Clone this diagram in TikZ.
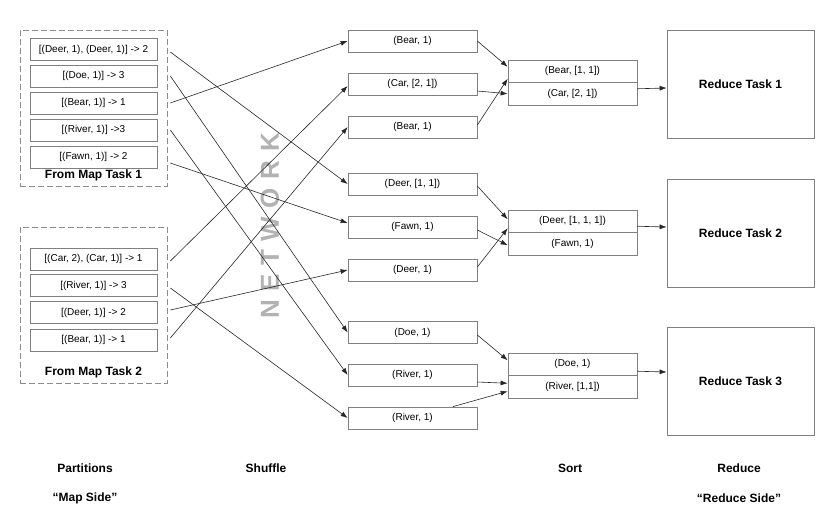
\documentclass[tikz,border=0pt]{standalone}
\usepackage{fontspec}
\setmainfont{Liberation Sans}
\usetikzlibrary{arrows.meta}

\begin{document}
\begin{tikzpicture}[x=1pt, y=-1pt,
    box/.style = {draw=black!50, line width=0.7pt, inner sep=0pt, font=\fontsize{10}{12}\selectfont},
    partbox/.style = {box, minimum width=127pt, minimum height=22pt},
    shufbox/.style = {box, minimum width=129pt, minimum height=22pt},
    sortbox/.style = {box, minimum width=129pt, minimum height=22.5pt},
    redbox/.style = {box, minimum width=147pt, minimum height=108pt, font=\fontsize{12}{14}\selectfont\bfseries},
    mapbox/.style = {draw=black!45, dash pattern=on 6pt off 3pt, line width=0.7pt, minimum width=147pt, minimum height=156pt, inner sep=0pt},
    stage/.style = {font=\fontsize{12}{14}\selectfont\bfseries, inner sep=0pt},
    arr/.style = {-{Latex[length=7pt,width=5pt]}, line width=0.6pt, black!85}]
    \useasboundingbox (0,0) rectangle (840,528);

    % map side
    \node (mt1) at (93.5, 108) [mapbox] {};
    \node (mt2) at (93.5, 305) [mapbox] {};
    \node (p11) at (93.5, 49.5) [partbox] {[(Deer, 1), (Deer, 1)] -> 2};
    \node (p12) at (93.5, 76) [partbox] {[(Doe, 1)] -> 3};
    \node (p13) at (93.5, 103) [partbox] {[(Bear, 1)] -> 1};
    \node (p14) at (93.5, 130) [partbox] {[(River, 1)] ->3};
    \node (p15) at (93.5, 157) [partbox] {[(Fawn, 1)] -> 2};
    \node (t1) at (93.5, 175) [stage] {From Map Task 1};
    \node (p21) at (93.5, 259) [partbox] {[(Car, 2), (Car, 1)] -> 1};
    \node (p22) at (93.5, 285.5) [partbox] {[(River, 1)] -> 3};
    \node (p23) at (93.5, 312.5) [partbox] {[(Deer, 1)] -> 2};
    \node (p24) at (93.5, 340) [partbox] {[(Bear, 1)] -> 1};
    \node (t2) at (93.5, 372) [stage] {From Map Task 2};

    % network
    \node (net) at (270, 226) [rotate=90, text=black!30, inner sep=0pt,
        font=\fontsize{26}{26}\selectfont\bfseries\addfontfeature{LetterSpace=33}] {NETWORK};

    % shuffle
    \node (sh1) at (412.5, 41) [shufbox] {(Bear, 1)};
    \node (sh2) at (412.5, 84) [shufbox] {(Car, [2, 1])};
    \node (sh3) at (412.5, 127) [shufbox] {(Bear, 1)};
    \node (sh4) at (412.5, 184) [shufbox] {(Deer, [1, 1])};
    \node (sh5) at (412.5, 227) [shufbox] {(Fawn, 1)};
    \node (sh6) at (412.5, 270) [shufbox] {(Deer, 1)};
    \node (sh7) at (412.5, 332.5) [shufbox] {(Doe, 1)};
    \node (sh8) at (412.5, 375) [shufbox] {(River, 1)};
    \node (sh9) at (412.5, 418) [shufbox] {(River, 1)};

    % sort
    \node (so1a) at (572.5, 71.25) [sortbox] {(Bear, [1, 1])};
    \node (so1b) at (572.5, 93.75) [sortbox] {(Car, [2, 1])};
    \node (so2a) at (572.5, 221.25) [sortbox] {(Deer, [1, 1, 1])};
    \node (so2b) at (572.5, 243.75) [sortbox] {(Fawn, 1)};
    \node (so3a) at (572.5, 364.25) [sortbox] {(Doe, 1)};
    \node (so3b) at (572.5, 386.75) [sortbox] {(River, [1,1])};

    % reduce
    \node (r1) at (740.5, 84) [redbox] {Reduce Task 1};
    \node (r2) at (740.5, 233) [redbox] {Reduce Task 2};
    \node (r3) at (740.5, 381) [redbox] {Reduce Task 3};

    % map -> shuffle
    \draw [arr] ([xshift=13pt, yshift=-2.5pt]p11.east) -- (sh4.west);
    \draw [arr] ([xshift=13pt]p12.east) -- (sh7.west);
    \draw [arr] ([xshift=13pt]p13.east) -- (sh1.west);
    \draw [arr] ([xshift=13pt]p14.east) -- (sh8.west);
    \draw [arr] ([xshift=13pt, yshift=-6pt]p15.east) -- ([yshift=4pt]sh5.west);
    \draw [arr] ([xshift=13pt, yshift=-2pt]p21.east) -- ([yshift=-2pt]sh2.west);
    \draw [arr] ([xshift=13pt, yshift=-2.5pt]p22.east) -- (sh9.west);
    \draw [arr] ([xshift=13pt, yshift=2.5pt]p23.east) -- (sh6.west);
    \draw [arr] ([xshift=13pt, yshift=2pt]p24.east) -- (sh3.west);

    % shuffle -> sort
    \draw [arr] (sh1.east) -- ([yshift=4.5pt]so1a.west);
    \draw [arr] ([yshift=-7pt]sh2.east) -- (so1b.west);
    \draw [arr] ([yshift=2pt]sh3.east) -- ([yshift=-7.5pt]so1a.west);
    \draw [arr] ([yshift=-2pt]sh4.east) -- ([yshift=2pt]so2a.west);
    \draw [arr] ([yshift=-3pt]sh5.east) -- ([yshift=-1.5pt]so2b.west);
    \draw [arr] ([yshift=3pt]sh6.east) -- ([yshift=-7pt]so2a.west);
    \draw [arr] ([yshift=-2.5pt]sh7.east) -- ([yshift=4pt]so3a.west);
    \draw [arr] ([yshift=-7pt]sh8.east) -- ([yshift=3.5pt]so3b.west);
    \draw [arr] (sh9) -- ([yshift=-4.5pt]so3b.west);

    % sort -> reduce
    \draw [arr] ([yshift=5pt]so1b.east) -- ([yshift=-4pt]r1.west);
    \draw [arr] ([yshift=-5pt]so2a.east) -- ([yshift=6pt]r2.west);
    \draw [arr] ([yshift=-7pt]so3a.east) -- ([yshift=9pt]r3.west);

    % stages
    \node (sg1) at (85, 468) [stage] {Partitions};
    \node (sg2) at (85, 498) [stage] {“Map Side”};
    \node (sg3) at (266, 468) [stage] {Shuffle};
    \node (sg4) at (570, 468) [stage] {Sort};
    \node (sg5) at (739, 468) [stage] {Reduce};
    \node (sg6) at (739, 498) [stage] {“Reduce Side”};
\end{tikzpicture}
\end{document}
